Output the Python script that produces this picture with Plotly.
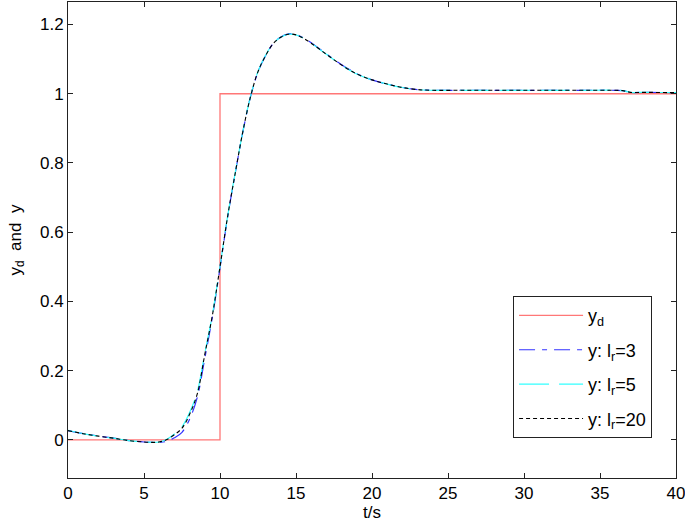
import plotly.graph_objects as go

# reference step
t_ref = [0, 10, 10, 40]
y_ref = [0, 0, 1, 1]

# sample times
t = [0, 1, 2, 3, 4, 5, 5.5, 6, 6.5, 7, 7.5, 8, 8.5, 9, 9.5, 10, 10.5, 11, 11.5,
     12, 12.5, 13, 13.5, 14, 14.5, 15, 15.5, 16, 17, 18, 19, 20, 21, 22, 23, 24,
     26, 28, 30, 32, 34, 36, 36.5, 37, 38, 40]

y_lr3 = [0.027, 0.018, 0.011, 0.005, -0.002, -0.006, -0.007, -0.007, -0.004, 0.006,
         0.022, 0.060, 0.122, 0.236, 0.355, 0.497, 0.643, 0.770, 0.889, 0.990,
         1.063, 1.110, 1.145, 1.164, 1.173, 1.171, 1.161, 1.147, 1.115, 1.084,
         1.058, 1.040, 1.028, 1.018, 1.012, 1.010, 1.010, 1.010, 1.010, 1.010,
         1.010, 1.010, 1.009, 1.004, 1.004, 1.003]

y_lr5 = [0.028, 0.018, 0.011, 0.005, -0.002, -0.006, -0.007, -0.006, 0.002, 0.017,
         0.038, 0.079, 0.138, 0.250, 0.362, 0.501, 0.646, 0.771, 0.890, 0.991,
         1.064, 1.111, 1.145, 1.163, 1.172, 1.170, 1.160, 1.146, 1.114, 1.083,
         1.057, 1.040, 1.028, 1.018, 1.012, 1.010, 1.010, 1.010, 1.010, 1.010,
         1.010, 1.010, 1.009, 1.004, 1.004, 1.003]

y_lr20 = [0.027, 0.018, 0.011, 0.005, -0.002, -0.006, -0.007, -0.006, 0.001, 0.015,
          0.034, 0.074, 0.132, 0.247, 0.360, 0.500, 0.645, 0.770, 0.890, 0.990,
          1.064, 1.110, 1.145, 1.163, 1.172, 1.170, 1.160, 1.146, 1.114, 1.083,
          1.057, 1.040, 1.028, 1.018, 1.012, 1.010, 1.010, 1.010, 1.010, 1.010,
          1.010, 1.010, 1.009, 1.004, 1.004, 1.003]

x_ticks = [0, 5, 10, 15, 20, 25, 30, 35, 40]
y_ticks = [0, 0.2, 0.4, 0.6, 0.8, 1, 1.2]

fig = go.Figure()

fig.add_trace(go.Scatter(x=t_ref, y=y_ref, mode="lines", name="y<sub>d</sub>",
                         legendgroup="a",
                         line=dict(color="#f77", width=1.3)))
fig.add_trace(go.Scatter(x=t, y=y_lr3, mode="lines", name="y: l<sub>r</sub>=3",
                         legendgroup="b", line_shape="spline",
                         line=dict(color="#3333ff", width=1.2, dash="16px,7px,5px,7px")))
fig.add_trace(go.Scatter(x=t, y=y_lr5, mode="lines", name="y: l<sub>r</sub>=5",
                         legendgroup="c", line_shape="spline",
                         line=dict(color="#33ffff", width=1.2, dash="30px,10px")))
fig.add_trace(go.Scatter(x=t, y=y_lr20, mode="lines", name="y: l<sub>r</sub>=20",
                         legendgroup="d", line_shape="spline",
                         line=dict(color="black", width=1.1, dash="4px,3px")))

axis_style = dict(showgrid=False, zeroline=False, showline=True, mirror="ticks",
                  linecolor="#222", linewidth=1, ticks="inside", ticklen=5,
                  tickcolor="#222", tickfont=dict(size=17, color="black"),
                  automargin=False, ticklabeloverflow="allow")

fig.update_xaxes(range=[0, 40], tickvals=x_ticks,
                 title=dict(text="t/s", font=dict(size=17), standoff=2), **axis_style)
fig.update_yaxes(range=[-0.11, 1.265], tickvals=y_ticks,
                 title=dict(text="y<sub>d</sub>  and  y", font=dict(size=17), standoff=14),
                 **axis_style)

fig.update_layout(
    width=685, height=523,
    margin=dict(l=68, r=9, t=2, b=45),
    plot_bgcolor="white", paper_bgcolor="white",
    font=dict(family="Liberation Sans, Arial, sans-serif", color="black"),
    legend=dict(x=0.732, y=0.382, xanchor="left", yanchor="top",
                bgcolor="white", bordercolor="#222", borderwidth=1,
                font=dict(size=18), tracegroupgap=8, traceorder="grouped",
                itemwidth=64),
)

# page body has a default margin; drop it so the figure sits at the corner
fig.write_html("out.html", config={"displayModeBar": False},
               post_script="document.body.style.margin='0';")
